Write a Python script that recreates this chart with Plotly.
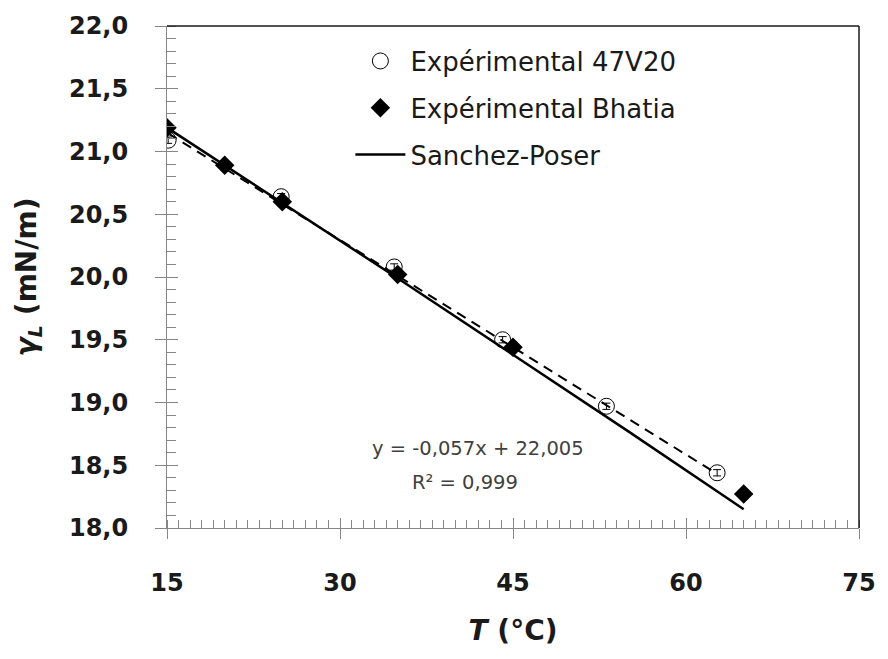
import plotly.graph_objects as go

# ---- data ----
t_47v20 = [15.1, 24.9, 34.7, 44.1, 53.1, 62.7]
g_47v20 = [21.09, 20.64, 20.08, 19.50, 18.97, 18.44]
err_47v20 = [0.025, 0.025, 0.025, 0.025, 0.025, 0.025]

t_bhatia = [15.0, 20.0, 25.0, 35.0, 45.0, 65.0]
g_bhatia = [21.19, 20.89, 20.60, 20.02, 19.44, 18.27]

t_sp = [15, 25, 35, 45, 55, 65]
g_sp = [21.19, 20.59, 19.99, 19.38, 18.77, 18.15]

trend_slope = -0.057
trend_intercept = 22.005
trend_t = [15.1, 62.7]
trend_g = [trend_slope * t + trend_intercept for t in trend_t]

x_ticks = [15, 30, 45, 60, 75]
y_ticks = [18.0, 18.5, 19.0, 19.5, 20.0, 20.5, 21.0, 21.5, 22.0]

eq_text = "y = -0,057x + 22,005"
r2_text = "R² = 0,999"

AX = "#868686"
TXT = "#1a1a1a"
FONT = "DejaVu Sans"

fig = go.Figure()

# trendline (dashed), not in legend; drawn on the overlay axes (same ranges)
fig.add_trace(go.Scatter(x=trend_t, y=trend_g, mode="lines",
                         xaxis="x2", yaxis="y2",
                         line=dict(color="black", width=2, dash="10px,7px"),
                         showlegend=False, hoverinfo="skip"))

fig.add_trace(go.Scatter(x=t_sp, y=g_sp, mode="lines", name="Sanchez-Poser",
                         line=dict(color="black", width=2.5),
                         legendrank=3, legendgroup="c"))

fig.add_trace(go.Scatter(x=t_47v20, y=g_47v20, mode="markers",
                         name="Expérimental 47V20",
                         marker=dict(symbol="circle", size=16, color="rgba(255,255,255,0)",
                                     line=dict(color="black", width=1)),
                         error_y=dict(type="data", array=err_47v20, color="black",
                                      thickness=1, width=4),
                         legendrank=1, legendgroup="a"))

fig.add_trace(go.Scatter(x=t_bhatia, y=g_bhatia, mode="markers",
                         name="Expérimental Bhatia",
                         marker=dict(symbol="diamond", size=15, color="black"),
                         legendrank=2, legendgroup="b"))

tickfont = dict(family=FONT, size=24, color=TXT, weight="bold")

fig.update_layout(
    width=888, height=659,
    margin=dict(l=167, r=21, t=20, b=131),
    paper_bgcolor="white", plot_bgcolor="white",
    separators=", ",
    showlegend=True,
    legend=dict(x=0.265, y=0.977, xanchor="left", yanchor="top",
                font=dict(family=FONT, size=26, color=TXT),
                bgcolor="rgba(0,0,0,0)", tracegroupgap=10, itemwidth=50),
    xaxis=dict(range=[15, 75], tickvals=x_ticks, ticktext=[str(v) for v in x_ticks],
               showgrid=False, zeroline=False,
               showline=True, linecolor=AX, linewidth=1,
               ticks="outside", ticklen=10, tickcolor=AX, tickwidth=1,
               minor=dict(dtick=1, tick0=15, ticks="inside", ticklen=8,
                          tickcolor=AX, tickwidth=1, showgrid=False),
               tickfont=tickfont, ticklabelstandoff=23,
               title=dict(text="<i>T</i> (°C)", standoff=24,
                          font=dict(family=FONT, size=28, color=TXT, weight="bold"))),
    yaxis=dict(range=[18, 22], tickvals=y_ticks, tickformat=".1f",
               showgrid=False, zeroline=False,
               showline=True, linecolor=AX, linewidth=1,
               ticks="outside", ticklen=11, tickcolor=AX, tickwidth=1,
               minor=dict(dtick=0.1, tick0=18, ticks="inside", ticklen=9,
                          tickcolor=AX, tickwidth=1, showgrid=False),
               tickfont=tickfont, ticklabelstandoff=22,
               title=dict(text="<i>γ<sub>L</sub></i> (mN/m)", standoff=24,
                          font=dict(family=FONT, size=28, color=TXT, weight="bold"))),
    xaxis2=dict(overlaying="x", anchor="y2", side="bottom", range=[15, 75],
                tickvals=x_ticks, ticks="inside", ticklen=10, tickcolor=AX,
                showticklabels=False, showline=False, showgrid=False, zeroline=False),
    yaxis2=dict(overlaying="y", anchor="x2", side="left", range=[18, 22],
                tickvals=y_ticks, ticks="inside", ticklen=11, tickcolor=AX,
                showticklabels=False, showline=False, showgrid=False, zeroline=False),
    shapes=[
        dict(type="line", xref="paper", yref="paper", x0=0, x1=1, y0=1, y1=1,
             line=dict(color="#1a1a1a", width=1.5)),
        dict(type="line", xref="paper", yref="paper", x0=1, x1=1, y0=0, y1=1,
             line=dict(color="#1a1a1a", width=1.5)),
    ],
    annotations=[
        dict(text=eq_text, xref="paper", yref="paper", x=0.449, y=0.159,
             xanchor="center", yanchor="middle", showarrow=False,
             font=dict(family=FONT, size=19.5, color="#404040")),
        dict(text=r2_text, xref="paper", yref="paper", x=0.43, y=0.091,
             xanchor="center", yanchor="middle", showarrow=False,
             font=dict(family=FONT, size=19.5, color="#404040")),
    ],
)

fig.write_html("out.html")
